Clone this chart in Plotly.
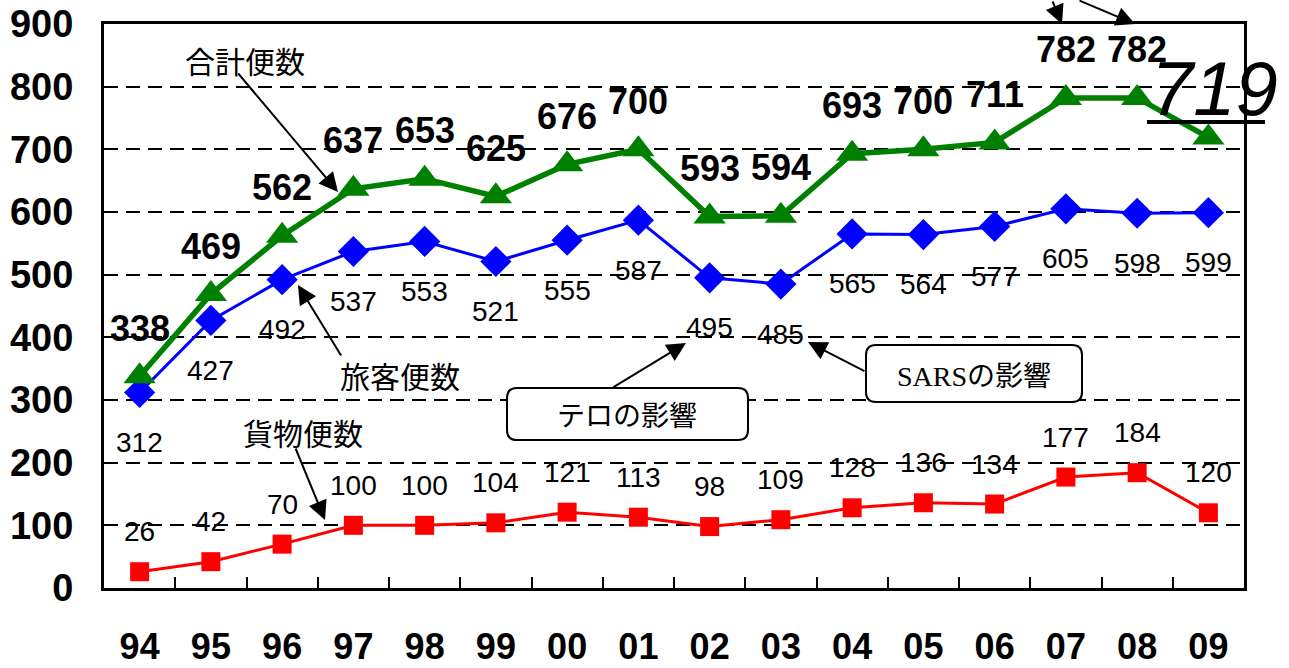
import plotly.graph_objects as go

years = ["94", "95", "96", "97", "98", "99", "00", "01", "02", "03", "04", "05", "06", "07", "08", "09"]
total = [338, 469, 562, 637, 653, 625, 676, 700, 593, 594, 693, 700, 711, 782, 782, 719]
passenger = [312, 427, 492, 537, 553, 521, 555, 587, 495, 485, 565, 564, 577, 605, 598, 599]
cargo = [26, 42, 70, 100, 100, 104, 121, 113, 98, 109, 128, 136, 134, 177, 184, 120]

W, H = 1289, 668
L, R, T, B = 104, 45, 24, 80
PW, PH = W - L - R, H - T - B

def px(x):
    return (x - L) / PW

def py(y):
    return (H - B - y) / PH

FONT = "Liberation Sans, Arial, Noto Sans CJK JP"
JP = "Noto Sans CJK JP, Liberation Sans"

idx = list(range(len(years)))

fig = go.Figure()
fig.add_trace(go.Scatter(x=idx, y=cargo, mode="lines+markers",
                         line=dict(color="#ff0000", width=3),
                         marker=dict(symbol="square", size=19, color="#ff0000"),
                         hoverinfo="skip"))
fig.add_trace(go.Scatter(x=idx, y=passenger, mode="lines+markers",
                         line=dict(color="#0000ff", width=3),
                         marker=dict(symbol="diamond", size=24, color="#0000ff"),
                         hoverinfo="skip"))
fig.add_trace(go.Scatter(x=idx, y=total, mode="lines+markers",
                         line=dict(color="#008000", width=5.5),
                         marker=dict(symbol="triangle-up", size=28, color="#008000"),
                         hoverinfo="skip"))

ann = []
for i, v in enumerate(total):
    if i == len(years) - 1:
        continue
    ann.append(dict(x=i, y=v, text=str(v), showarrow=False, yshift=48,
                    font=dict(family=FONT, size=36, color="black", weight="bold")))
for i, v in enumerate(passenger):
    ann.append(dict(x=i, y=v, text=str(v), showarrow=False, yshift=-50,
                    font=dict(family=FONT, size=28, color="black")))
for i, v in enumerate(cargo):
    ann.append(dict(x=i, y=v, text=str(v), showarrow=False, yshift=40,
                    font=dict(family=FONT, size=28, color="black")))

# big 719
ann.append(dict(x=px(1214), y=py(88), xref="paper", yref="paper", text="<i>%d</i>" % total[-1],
                xanchor="center", yanchor="middle",
                showarrow=False, font=dict(family=FONT, size=76, color="black")))

def arrow(text, tx, ty, tipx, tipy, tailx, taily, size=30, font=JP):
    out = []
    out.append(dict(x=px(tipx), y=py(tipy), xref="paper", yref="paper",
                    ax=tailx - tipx, ay=taily - tipy, axref="pixel", ayref="pixel",
                    text="", showarrow=True, arrowhead=2, arrowsize=1.9,
                    arrowwidth=2, arrowcolor="black"))
    if text:
        out.append(dict(x=px(tx), y=py(ty), xref="paper", yref="paper", text=text,
                        xanchor="center", yanchor="middle",
                        showarrow=False, font=dict(family=font, size=size, color="black")))
    return out

ann += arrow("合計便数", 245, 60, 338, 192, 237, 72)
ann += arrow("旅客便数", 400, 375, 298, 285, 342, 357)
ann += arrow("貨物便数", 303, 432, 325, 520, 295, 447)
ann += arrow("テロの影響", 627, 414, 686, 343, 612, 388, size=28)
ann += arrow("<span style='font-family:Liberation Serif'>SARS</span>の影響", 974, 374, 808, 342, 866, 372, size=28)
ann += arrow("", 0, 0, 1062, 24, 1052, -12)
ann += arrow("", 0, 0, 1135, 24, 1078, -12)

def rrect(x0, y0, x1, y1, r):
    X = lambda v: px(v)
    Y = lambda v: py(v)
    return (f"M {X(x0+r)},{Y(y0)} L {X(x1-r)},{Y(y0)} Q {X(x1)},{Y(y0)} {X(x1)},{Y(y0+r)} "
            f"L {X(x1)},{Y(y1-r)} Q {X(x1)},{Y(y1)} {X(x1-r)},{Y(y1)} "
            f"L {X(x0+r)},{Y(y1)} Q {X(x0)},{Y(y1)} {X(x0)},{Y(y1-r)} "
            f"L {X(x0)},{Y(y0+r)} Q {X(x0)},{Y(y0)} {X(x0+r)},{Y(y0)} Z")

shapes = [
    dict(type="path", xref="paper", yref="paper", path=rrect(507, 388, 748, 440, 10),
         line=dict(color="black", width=2), fillcolor="white", layer="above"),
    dict(type="path", xref="paper", yref="paper", path=rrect(866, 345, 1082, 402, 10),
         line=dict(color="black", width=2), fillcolor="white", layer="above"),
    dict(type="line", xref="paper", yref="paper", x0=px(1147), x1=px(1265), y0=py(122), y1=py(122),
         line=dict(color="black", width=4)),
]

fig.update_layout(
    width=W, height=H, margin=dict(l=L, r=R, t=T, b=B),
    paper_bgcolor="white", plot_bgcolor="white", showlegend=False,
    annotations=ann, shapes=shapes,
    xaxis=dict(type="linear", range=[-0.5, 15.5], showgrid=False,
               tickmode="array", tickvals=idx, ticktext=years, ticks="",
               showline=True, linecolor="black", linewidth=3, mirror=True,
               ticklabelstandoff=25, automargin=False, zeroline=False,
               tickfont=dict(family=FONT, size=36, color="black", weight="bold")),
    xaxis2=dict(overlaying="x", range=[-0.5, 15.5], tickmode="array",
                tickvals=[i + 0.5 for i in idx[:-1]], ticktext=[""] * (len(idx) - 1),
                ticks="inside", ticklen=11, tickwidth=2, tickcolor="black",
                side="bottom", showgrid=False, showline=False, zeroline=False,
                automargin=False, matches="x"),
    yaxis=dict(range=[0, 900], dtick=100, showgrid=True, gridcolor="black", gridwidth=1.5,
               griddash="14px,8px", zeroline=False,
               showline=True, linecolor="black", linewidth=3, mirror=True,
               ticks="", ticklabelstandoff=20, automargin=False,
               tickfont=dict(family=FONT, size=38, color="black", weight="bold")),
)
fig.add_trace(go.Scatter(x=[None], y=[None], xaxis="x2", showlegend=False, hoverinfo="skip"))

fig.write_html("out.html", config={"displayModeBar": False},
               post_script="document.body.style.margin='0';document.body.style.overflow='hidden';")
